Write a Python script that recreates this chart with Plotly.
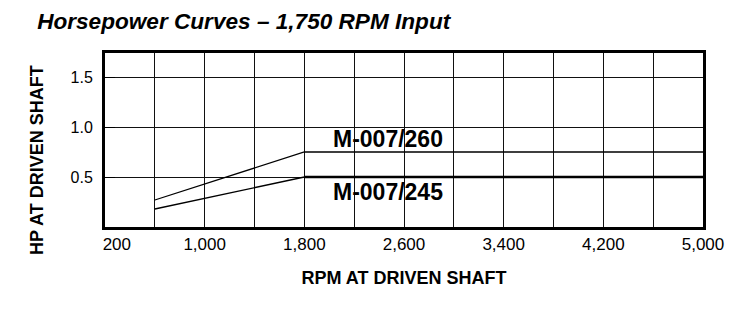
import plotly.graph_objects as go

rpm = [600, 1800, 5000]
hp_260 = [0.27, 0.75, 0.75]
hp_245 = [0.18, 0.50, 0.50]
series_names = ["M-007/260", "M-007/245"]

x_tickvals = [200, 600, 1000, 1400, 1800, 2200, 2600, 3000, 3400, 3800, 4200, 4600, 5000]
x_ticktext = ["\u00a0\u00a0\u00a0\u00a0\u00a0200", "", "1,000", "", "1,800", "", "2,600", "", "3,400", "", "4,200", "", "5,000"]
y_tickvals = [0.5, 1.0, 1.5]
y_ticktext = ["0.5", "1.0", "1.5"]

FONT = "Liberation Sans, Arial, sans-serif"

fig = go.Figure()
fig.add_trace(go.Scatter(x=rpm, y=hp_260, mode="lines", line=dict(color="black", width=1.3),
                         name=series_names[0], showlegend=False, hoverinfo="skip"))
fig.add_trace(go.Scatter(x=rpm, y=hp_245, mode="lines", line=dict(color="black", width=1.3),
                         name=series_names[1], showlegend=False, hoverinfo="skip"))
fig.add_trace(go.Scatter(x=rpm[1:], y=hp_245[1:], mode="lines", line=dict(color="black", width=2.6),
                         showlegend=False, hoverinfo="skip"))

fig.add_annotation(x=2470, y=hp_260[-1], text="<b>" + series_names[0] + "</b>", showarrow=False,
                   yshift=13, font=dict(family=FONT, size=23, color="black"))
fig.add_annotation(x=2470, y=hp_245[-1], text="<b>" + series_names[1] + "</b>", showarrow=False,
                   yshift=-15, font=dict(family=FONT, size=23, color="black"))

# y-axis title (placed as annotation; sits slightly below plot centre in the original)
fig.add_annotation(xref="paper", yref="paper", x=(37 - 105) / 598, y=0.385,
                   text="<b>HP AT DRIVEN SHAFT</b>", textangle=-90, showarrow=False,
                   xanchor="center", yanchor="middle",
                   font=dict(family=FONT, size=18, color="black"))

fig.update_layout(
    width=743, height=323,
    margin=dict(l=105, r=40, t=53, b=96),
    paper_bgcolor="white", plot_bgcolor="white",
    font=dict(family=FONT, color="black"),
    title=dict(text="<b><i>Horsepower Curves – 1,750 RPM Input</i></b>", x=0.05, xanchor="left",
               y=0.935, yanchor="middle", font=dict(family=FONT, size=22.6, color="black")),
)
fig.update_xaxes(range=[200, 5000], tickvals=x_tickvals, ticktext=x_ticktext,
                 showgrid=True, gridcolor="#111", gridwidth=1, zeroline=False,
                 showline=True, linecolor="black", linewidth=3, mirror=True,
                 ticks="", tickfont=dict(size=17),
                 title=dict(text="<b>RPM AT DRIVEN SHAFT</b>", font=dict(size=18), standoff=18))
fig.update_yaxes(range=[0, 1.74], tickvals=y_tickvals, ticktext=y_ticktext,
                 showgrid=True, gridcolor="#111", gridwidth=1, zeroline=False,
                 showline=True, linecolor="black", linewidth=3, mirror=True,
                 ticks="inside", ticklen=10, tickcolor="black", tickwidth=1,
                 ticklabelstandoff=6, tickfont=dict(size=16))

fig.write_html("out.html")
